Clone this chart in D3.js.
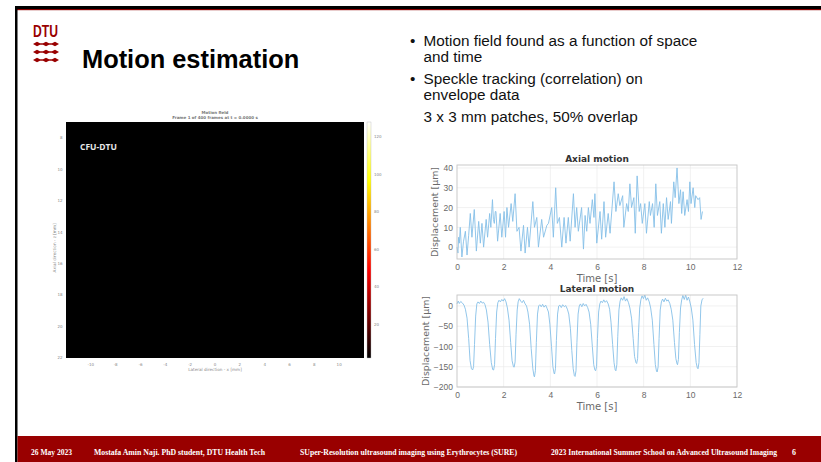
<!DOCTYPE html>
<html>
<head>
<meta charset="utf-8">
<script src="https://cdn.jsdelivr.net/npm/d3@7"></script>
<style>
  body { margin: 0; background: #fff; }
  svg { display: block; font-family: "Liberation Sans", Arial, sans-serif; }
</style>
</head>
<body>
<script>
const width = 821, height = 462;

// ---- slide text ----
const title = "Motion estimation";
const bullets = [
  ["Motion field found as a function of space", "and time"],
  ["Speckle tracking (correlation) on", "envelope data"]
];
const subLine = "3 x 3 mm patches, 50% overlap";
const footer = [
  "26 May 2023",
  "Mostafa Amin Naji. PhD student, DTU Health Tech",
  "SUper-Resolution ultrasound imaging using Erythrocytes (SURE)",
  "2023 International Summer School on Advanced Ultrasound Imaging",
  "6"
];

// ---- motion field frame (frame 1: all zero) ----
const fieldTitle = ["Motion field", "Frame 1 of 400 frames at t = 0.0000 s"];
const fieldX = [-10, -8, -6, -4, -2, 0, 2, 4, 6, 8, 10];
const fieldY = [8, 10, 12, 14, 16, 18, 20, 22];
const fieldC = [20, 40, 60, 80, 100, 120];
const fieldValue = 0;

// ---- displacement traces [time s, displacement um] ----
const timeTicks = [0, 2, 4, 6, 8, 10, 12];
const axialTicks = [0, 10, 20, 30, 40];
const lateralTicks = [-200, -150, -100, -50, 0];

const axial = [
  [0,0],[0.04,-3],[0.07,5],[0.1,2],[0.14,10],[0.21,-5],[0.28,3],[0.36,8],[0.43,-4],[0.5,6],
  [0.57,17],[0.64,5],[0.74,19],[0.83,-2],[0.93,13],[1.0,2],[1.07,12],[1.14,0],[1.25,14],[1.31,5],
  [1.4,17],[1.45,10],[1.52,24],[1.56,14],[1.6,12],[1.64,18],[1.67,18],[1.74,3],[1.85,17],[1.92,5],
  [2.02,18],[2.08,5],[2.14,20],[2.21,10],[2.32,22],[2.39,13],[2.49,27],[2.57,8],[2.66,10],[2.74,-2],
  [2.85,11],[2.92,-3],[3.02,10],[3.09,0],[3.25,23],[3.32,10],[3.42,15],[3.49,0],[3.63,14],[3.71,5],
  [3.85,11],[3.92,12],[4.06,20],[4.13,5],[4.23,30],[4.3,12],[4.39,15],[4.49,0],[4.59,15],[4.67,2],
  [4.77,15],[4.85,3],[4.99,27],[5.06,10],[5.13,20],[5.2,8],[5.34,20],[5.42,-1],[5.49,16],[5.56,8],
  [5.63,20],[5.7,12],[5.8,24],[5.87,15],[5.91,27],[5.99,2],[6.13,18],[6.2,4],[6.3,23],[6.37,5],
  [6.48,17],[6.56,7],[6.73,33],[6.81,18],[6.91,27],[6.98,21],[7.1,26],[7.15,10],[7.27,22],[7.34,18],
  [7.41,32],[7.48,20],[7.58,25],[7.64,7],[7.72,36],[7.81,18],[7.87,22],[7.94,12],[8.05,22],[8.12,7],
  [8.24,23],[8.29,16],[8.38,22],[8.45,10],[8.52,32],[8.59,16],[8.69,23],[8.76,7],[8.84,22],[8.91,10],
  [8.98,25],[9.05,14],[9.15,23],[9.19,12],[9.29,33],[9.35,25],[9.43,40],[9.51,22],[9.58,29],[9.63,17],
  [9.69,28],[9.76,16],[9.86,24],[9.92,18],[9.98,33],[10.03,22],[10.12,30],[10.19,20],[10.23,26],[10.33,24],
  [10.4,25],[10.46,14],[10.52,18]
];

const lateral = [
  [0,5],[0.05,12],[0.1,6],[0.16,11],[0.22,8],[0.3,2],[0.36,-8],[0.43,-30],[0.5,-80],[0.56,-135],[0.62,-155],[0.67,-158],[0.71,-150],[0.75,-95],[0.8,-25],[0.85,5],
  [0.9,10],[0.96,6],[1.02,12],[1.08,7],[1.14,9],[1.2,3],[1.26,-10],[1.33,-40],[1.4,-95],[1.47,-140],[1.53,-157],[1.57,-158],[1.61,-145],[1.65,-80],[1.7,-15],[1.75,8],
  [1.8,14],[1.86,10],[1.92,16],[1.98,12],[2.04,18],[2.1,10],[2.16,-5],[2.23,-35],[2.3,-90],[2.36,-135],[2.42,-150],[2.45,-151],[2.49,-138],[2.53,-70],[2.58,-10],[2.62,10],
  [2.67,18],[2.73,12],[2.79,8],[2.85,14],[2.92,5],[2.98,0],[3.04,-15],[3.11,-45],[3.18,-105],[3.25,-155],[3.3,-173],[3.32,-175],[3.36,-160],[3.4,-90],[3.45,-20],[3.5,0],
  [3.55,3],[3.61,-2],[3.67,4],[3.73,-3],[3.8,2],[3.86,-6],[3.92,-15],[3.98,-45],[4.05,-100],[4.11,-150],[4.16,-166],[4.18,-168],[4.22,-155],[4.26,-85],[4.31,-20],[4.36,0],
  [4.41,2],[4.47,-4],[4.53,3],[4.6,-2],[4.66,1],[4.73,-8],[4.79,-20],[4.86,-55],[4.92,-110],[4.98,-155],[5.03,-172],[5.06,-174],[5.1,-160],[5.14,-90],[5.19,-20],[5.24,0],
  [5.29,5],[5.35,-2],[5.41,6],[5.47,0],[5.53,4],[5.6,-4],[5.66,-15],[5.73,-45],[5.8,-100],[5.86,-145],[5.91,-158],[5.94,-160],[5.98,-150],[6.02,-80],[6.07,-15],[6.12,5],
  [6.17,12],[6.23,8],[6.29,15],[6.35,9],[6.41,13],[6.48,5],[6.54,-8],[6.6,-40],[6.67,-95],[6.73,-140],[6.78,-158],[6.81,-160],[6.85,-145],[6.89,-75],[6.94,-10],[6.99,12],
  [7.04,20],[7.1,14],[7.16,23],[7.22,12],[7.28,18],[7.35,8],[7.41,-5],[7.48,-30],[7.55,-80],[7.61,-125],[7.67,-140],[7.7,-142],[7.74,-130],[7.78,-65],[7.83,-5],[7.88,15],
  [7.93,25],[7.99,18],[8.05,27],[8.11,14],[8.17,20],[8.24,10],[8.3,-5],[8.37,-35],[8.44,-95],[8.5,-145],[8.55,-161],[8.58,-163],[8.62,-150],[8.66,-80],[8.71,-10],[8.76,10],
  [8.81,17],[8.87,10],[8.93,19],[8.99,12],[9.05,15],[9.12,6],[9.18,-8],[9.25,-35],[9.32,-90],[9.38,-130],[9.43,-143],[9.45,-145],[9.49,-132],[9.53,-65],[9.58,-5],[9.63,15],
  [9.68,26],[9.74,16],[9.8,27],[9.86,14],[9.92,22],[9.98,10],[10.04,-5],[10.11,-35],[10.18,-95],[10.25,-140],[10.3,-153],[10.33,-155],[10.37,-140],[10.41,-70],[10.45,0],[10.5,15],[10.55,19]
];

const svg = d3.select("body").append("svg")
    .attr("width", width)
    .attr("height", height);

// ---- slide frame ----
svg.append("rect").attr("x", 15).attr("y", 6).attr("width", width - 15).attr("height", 3).attr("fill", "#000");
svg.append("rect").attr("x", 17).attr("y", 9).attr("width", width - 17).attr("height", 1.2).attr("fill", "#8b0000");
svg.append("rect").attr("x", 15).attr("y", 6).attr("width", 2.5).attr("height", height - 6).attr("fill", "#000");
svg.append("rect").attr("x", 17.5).attr("y", 436).attr("width", width - 17.5).attr("height", height - 436).attr("fill", "#990000");

// DTU logo
const logo = svg.append("g").attr("fill", "#990000");
logo.append("text")
    .attr("x", 33).attr("y", 37)
    .attr("font-size", 16).attr("font-weight", "bold")
    .attr("textLength", 25).attr("lengthAdjust", "spacingAndGlyphs")
    .text("DTU");
[44, 52, 60].forEach(y => {
  logo.append("path").attr("d",
    `M33,${y} L37,${y - 2.2} L40,${y - 0.8} L43,${y - 0.8} L46,${y - 2.2} L49,${y - 0.8} L52,${y - 0.8} L55,${y - 2.2} L59,${y}` +
    ` L55,${y + 2.2} L52,${y + 0.8} L49,${y + 0.8} L46,${y + 2.2} L43,${y + 0.8} L40,${y + 0.8} L37,${y + 2.2} Z`);
});

svg.append("text")
    .attr("x", 82).attr("y", 68)
    .attr("font-size", 25.4).attr("font-weight", "bold")
    .attr("fill", "#000")
    .text(title);

// bullets
const bl = svg.append("g").attr("font-size", 15.3).attr("fill", "#111");
const bulletY = [[46, 61.5], [84, 99.5]];
bullets.forEach((lines, i) => {
  bl.append("text").attr("x", 410).attr("y", bulletY[i][0]).text("\u2022");
  lines.forEach((t, j) => bl.append("text").attr("x", 423.5).attr("y", bulletY[i][j]).text(t));
});
bl.append("text").attr("x", 423.5).attr("y", 121.5).text(subLine);

// footer
const footX = [31, 94, 300, 551, 792];
const footW = [41, 171, 217, 226, 4];
svg.append("g")
    .attr("font-family", "'Liberation Serif', 'Times New Roman', serif")
    .attr("font-weight", "bold").attr("font-size", 7.8).attr("fill", "#fff")
  .selectAll("text")
  .data(footer)
  .join("text")
    .attr("x", (d, i) => footX[i]).attr("y", 455)
    .attr("textLength", (d, i) => footW[i]).attr("lengthAdjust", "spacingAndGlyphs")
    .text(d => d);

// ---- motion field figure ----
const hx = d3.scaleLinear([-12, 12], [66, 364]);
const hy = d3.scaleLinear([7, 22], [122, 358]);
const hc = d3.scaleLinear([2, 128], [358, 122]);
const hot = d3.scaleLinear([0, 0.375, 0.75, 1], ["#000", "#ff0000", "#ffff00", "#ffffff"]);
const hotValue = v => hot(Math.max(0, (v - hc.domain()[0]) / (hc.domain()[1] - hc.domain()[0])));

const fig = svg.append("g").attr("font-family", "'DejaVu Sans', sans-serif").attr("fill", "#888");

fig.append("rect")
    .attr("x", hx(-12)).attr("y", hy(7))
    .attr("width", hx(12) - hx(-12)).attr("height", hy(22) - hy(7))
    .attr("fill", hotValue(fieldValue));

fig.selectAll(".ft")
  .data(fieldTitle)
  .join("text")
    .attr("x", hx(0)).attr("y", (d, i) => 113.5 + i * 5)
    .attr("text-anchor", "middle").attr("font-size", 4)
    .attr("font-weight", "bold").attr("fill", "#777")
    .text(d => d);

fig.selectAll(".fx")
  .data(fieldX)
  .join("text")
    .attr("x", d => hx(d)).attr("y", 365.5)
    .attr("text-anchor", "middle").attr("font-size", 4)
    .text(d => d);

fig.selectAll(".fy")
  .data(fieldY)
  .join("text")
    .attr("x", 62.5).attr("y", d => hy(d) + 1.4)
    .attr("text-anchor", "end").attr("font-size", 4)
    .text(d => d);

fig.append("text")
    .attr("x", hx(0)).attr("y", 371)
    .attr("text-anchor", "middle").attr("font-size", 4.2)
    .text("Lateral direction - x [mm]");

fig.append("text")
    .attr("transform", `translate(56,${hy(15)}) rotate(-90)`)
    .attr("text-anchor", "middle").attr("font-size", 4.2)
    .text("Axial direction - z [mm]");

fig.append("text")
    .attr("x", 80).attr("y", 150)
    .attr("font-family", "'Open Sans', sans-serif")
    .attr("font-size", 8.5).attr("font-weight", "bold")
    .attr("fill", "#e8e8e8")
    .text("CFU-DTU");

// colorbar
const grad = svg.append("defs").append("linearGradient")
    .attr("id", "hot").attr("x1", 0).attr("y1", 1).attr("x2", 0).attr("y2", 0);
grad.selectAll("stop")
  .data(d3.range(0, 1.001, 0.125))
  .join("stop")
    .attr("offset", d => d)
    .attr("stop-color", d => hot(d));

fig.append("rect")
    .attr("x", 367).attr("y", hc(128))
    .attr("width", 4).attr("height", hc(2) - hc(128))
    .attr("fill", "url(#hot)")
    .attr("stroke", "#bbb").attr("stroke-width", 0.4);

fig.selectAll(".fc")
  .data(fieldC)
  .join("text")
    .attr("x", 374).attr("y", d => hc(d) + 1.4)
    .attr("font-size", 4)
    .text(d => d);

// ---- displacement plots ----
function tracePlot(data, yDomain, yTicks, top, bottom, name, ylabX, timeY) {
  const x = d3.scaleLinear([0, 12], [457, 737]);
  const y = d3.scaleLinear(yDomain, [bottom, top]);
  const g = svg.append("g").attr("font-family", "'DejaVu Sans', sans-serif");

  g.append("rect")
      .attr("x", x(0)).attr("y", top)
      .attr("width", x(12) - x(0)).attr("height", bottom - top)
      .attr("fill", "#fff");

  g.append("g")
      .attr("stroke", "#ebebeb").attr("stroke-width", 0.7)
      .call(g => g.selectAll(".gx").data(timeTicks.slice(1, -1)).join("line")
        .attr("x1", d => x(d)).attr("x2", d => x(d)).attr("y1", top).attr("y2", bottom))
      .call(g => g.selectAll(".gy").data(yTicks).join("line")
        .attr("x1", x(0)).attr("x2", x(12)).attr("y1", d => y(d)).attr("y2", d => y(d)));

  g.append("path")
      .datum(data)
      .attr("fill", "none")
      .attr("stroke", "#86c0e8")
      .attr("stroke-width", 0.9)
      .attr("stroke-linejoin", "round")
      .attr("d", d3.line().x(d => x(d[0])).y(d => y(d[1])));

  g.append("rect")
      .attr("x", x(0)).attr("y", top)
      .attr("width", x(12) - x(0)).attr("height", bottom - top)
      .attr("fill", "none").attr("stroke", "#c4c4c4").attr("stroke-width", 0.9);

  g.append("g")
      .attr("transform", `translate(0,${bottom})`)
      .call(d3.axisBottom(x).tickValues(timeTicks).tickSize(0).tickPadding(5))
      .call(g => g.select(".domain").remove())
      .call(g => g.selectAll("text").attr("font-size", 8.5).attr("fill", "#6a6a6a"));

  g.append("g")
      .attr("transform", `translate(${x(0)},0)`)
      .call(d3.axisLeft(y).tickValues(yTicks).tickSize(0).tickPadding(4))
      .call(g => g.select(".domain").remove())
      .call(g => g.selectAll("text").attr("font-size", 8.5).attr("fill", "#6a6a6a"));

  g.append("text")
      .attr("x", x(6)).attr("y", top - 3.5)
      .attr("text-anchor", "middle")
      .attr("font-size", 9).attr("font-weight", "bold").attr("fill", "#333")
      .text(name);

  g.append("text")
      .attr("x", x(6)).attr("y", timeY)
      .attr("text-anchor", "middle")
      .attr("font-size", 10).attr("fill", "#6a6a6a")
      .text("Time [s]");

  g.append("text")
      .attr("transform", `translate(${ylabX},${(top + bottom) / 2}) rotate(-90)`)
      .attr("text-anchor", "middle")
      .attr("font-size", 9.4).attr("fill", "#6a6a6a")
      .text("Displacement [\u03bcm]");
}

tracePlot(axial, [-6, 41.5], axialTicks, 165, 259, "Axial motion", 438, 282);
tracePlot(lateral, [-200, 27], lateralTicks, 295, 387, "Lateral motion", 429, 410);
</script>
</body>
</html>
